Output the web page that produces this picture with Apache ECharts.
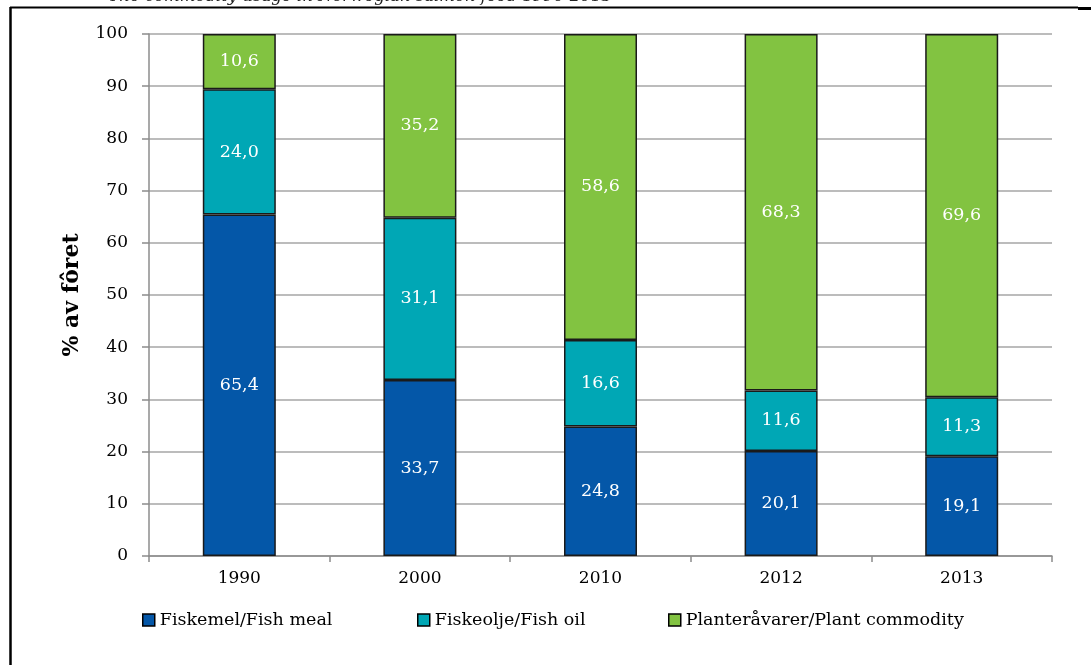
<!DOCTYPE html>
<html>
<head>
<meta charset="utf-8">
<script src="https://cdn.jsdelivr.net/npm/echarts@6/dist/echarts.min.js"></script>
<style>html,body{margin:0;padding:0;background:#fff;overflow:hidden}#c{width:1091px;height:665px}</style>
</head>
<body>
<div id="c"></div>
<script>
const categories = ['1990', '2000', '2010', '2012', '2013'];
const fishMeal = [65.4, 33.7, 24.8, 20.1, 19.1];
const fishOil = [24.0, 31.1, 16.6, 11.6, 11.3];
const plant = [10.6, 35.2, 58.6, 68.3, 69.6];
const seriesNames = ['Fiskemel/Fish meal', 'Fiskeolje/Fish oil', 'Planteråvarer/Plant commodity'];
const titleText = 'The commodity usage in Norwegian salmon feed 1990-2013';
const yAxisName = '% av fôret';

const FONT = 'DejaVu Serif';
const colors = ['#0457a8', '#00a7b5', '#82c341'];

function mk(name, data, color) {
  return {
    name: name, type: 'bar', stack: 'total', data: data, barWidth: 73,
    itemStyle: { color: color, borderColor: '#1a1a1a', borderWidth: 1.5 },
    label: {
      show: true, position: 'inside', color: '#fff', fontFamily: FONT, fontSize: 17.5,
      formatter: p => p.value.toFixed(1).replace('.', ',')
    }
  };
}

const chart = echarts.init(document.getElementById('c'), null, { renderer: 'canvas' });
const legendBase = {
  orient: 'horizontal', top: 606, itemWidth: 12, itemHeight: 12, icon: 'rect',
  textStyle: { fontFamily: FONT, fontSize: 17.5, color: '#000' }, itemGap: 10, selectedMode: false
};
chart.setOption({
  animation: false,
  color: colors,
  graphic: [
    { type: 'line', shape: { x1: 10, y1: 7.5, x2: 1078, y2: 7.5 }, style: { stroke: '#000', lineWidth: 2 }, silent: true },
    { type: 'line', shape: { x1: 1078, y1: 8.5, x2: 1091, y2: 8.5 }, style: { stroke: '#000', lineWidth: 3 }, silent: true },
    { type: 'line', shape: { x1: 10.5, y1: 7, x2: 10.5, y2: 665 }, style: { stroke: '#000', lineWidth: 2.5 }, silent: true },
    { type: 'text', x: 360, y: 5, style: { text: titleText, fontFamily: FONT, fontStyle: 'italic', fontSize: 16.5, fill: '#222', textAlign: 'center', textVerticalAlign: 'bottom' } }
  ],
  legend: [
    Object.assign({}, legendBase, { left: 137, data: [{ name: seriesNames[0], itemStyle: { borderColor: '#000', borderWidth: 1.5 } }] }),
    Object.assign({}, legendBase, { left: 412, data: [{ name: seriesNames[1], itemStyle: { borderColor: '#000', borderWidth: 1.5 } }] }),
    Object.assign({}, legendBase, { left: 663, data: [{ name: seriesNames[2], itemStyle: { borderColor: '#000', borderWidth: 1.5 } }] })
  ],
  grid: { left: 149, right: 39, top: 34, bottom: 109, containLabel: false },
  xAxis: {
    type: 'category', data: categories, boundaryGap: true,
    axisLine: { lineStyle: { color: '#8c8c8c', width: 1.5 } },
    axisTick: { show: true, alignWithLabel: false, length: 6, lineStyle: { color: '#8c8c8c', width: 1.5 } },
    axisLabel: { fontFamily: FONT, fontSize: 17, color: '#000', margin: 14 }
  },
  yAxis: {
    type: 'value', min: 0, max: 100, interval: 10,
    name: yAxisName, nameLocation: 'middle', nameGap: 66, nameRotate: 90,
    nameTextStyle: { fontFamily: FONT, fontSize: 22, fontWeight: 'bold', color: '#000' },
    axisLine: { show: true, lineStyle: { color: '#8c8c8c', width: 1.5 } },
    axisTick: { show: true, length: 7, lineStyle: { color: '#8c8c8c', width: 1.5 } },
    axisLabel: { fontFamily: FONT, fontSize: 17, color: '#000', margin: 21 },
    splitLine: { show: true, lineStyle: { color: '#a6a6a6', width: 1.5 } }
  },
  series: [mk(seriesNames[0], fishMeal, colors[0]), mk(seriesNames[1], fishOil, colors[1]), mk(seriesNames[2], plant, colors[2])]
});
</script>
</body>
</html>
